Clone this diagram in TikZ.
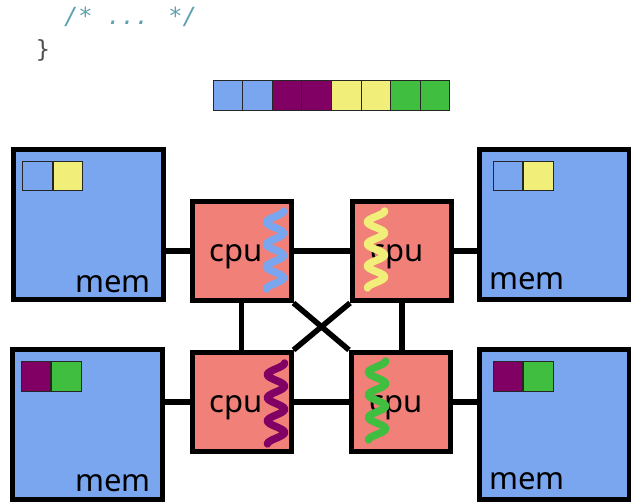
\documentclass[tikz,border=0pt]{standalone}
\usepackage{fontspec}
\setmainfont{Noto Sans}
\newfontfamily\codefont{DejaVu Sans Mono}
\usetikzlibrary{backgrounds}

\definecolor{memblue}{RGB}{122,166,240}
\definecolor{cpusalmon}{RGB}{240,128,120}
\definecolor{tyellow}{RGB}{242,238,122}
\definecolor{tpurple}{RGB}{128,0,100}
\definecolor{tgreen}{RGB}{64,190,64}
\definecolor{tblue}{RGB}{122,166,240}
\definecolor{commentteal}{RGB}{96,160,176}
\definecolor{bracegray}{RGB}{80,80,80}

\tikzset{
  membox/.style={draw=black, line width=5pt, fill=memblue, minimum size=150pt, inner sep=0pt},
  cpubox/.style={draw=black, line width=5pt, fill=cpusalmon, minimum size=99pt, inner sep=0pt},
  link/.style={draw=black, line width=5.5pt},
  cell/.style={draw=black!85, line width=1pt, minimum width=29.6pt, minimum height=30pt, inner sep=0pt},
  minicell/.style={draw=black!85, line width=1pt, minimum size=29.5pt, inner sep=0pt},
  boxlabel/.style={inner sep=0pt, font=\fontsize{31}{31}\selectfont},
  codetext/.style={inner sep=0pt, font=\codefont\fontsize{23.6}{28}\selectfont},
  thread/.style={line width=7.5pt, line cap=round, line join=round}
}

% wavy thread: colour, centre x, top y, bottom y
\newcommand{\threadwave}[4]{%
  \draw[thread, #1] plot[domain=0:1, samples=140, smooth]
    ({#2 + 8.5*sin(360*3.5*\x + 90)}, {#3 + (#4 - #3)*\x});}

\begin{document}
\begin{tikzpicture}[x=1pt, y=-1pt]
\useasboundingbox (0,0) rectangle (631,502);

% source fragment
\node[codetext, anchor=base west, text=commentteal] (comment) at (64,25) {\itshape /* ... */};
\node[codetext, anchor=base west, text=bracegray] (brace) at (35.6,58) {\}};

% shared array strip
\foreach \c [count=\i] in {tblue,tblue,tpurple,tpurple,tyellow,tyellow,tgreen,tgreen}
  \node[cell, fill=\c] (strip\i) at ({213 + 29.6*(\i-0.5)}, 95.5) {};

% memories
\node[membox] (memTL) at (88.5,224.5) {};
\node[membox] (memBL) at (87.5,424.5) {};
\node[membox] (memTR) at (554.5,224.5) {};
\node[membox] (memBR) at (554.5,424.5) {};

% processors
\node[cpubox] (cpuTL) at (241.5,251) {};
\node[cpubox] (cpuTR) at (402,251) {};
\node[cpubox] (cpuBL) at (241.5,402) {};
\node[cpubox] (cpuBR) at (401,402) {};

% interconnect
\begin{pgfonlayer}{background}
  \draw[link] (memTL.center |- cpuTL.center) -- (cpuTL.center);
  \draw[link] (cpuTL.center) -- (cpuTR.center);
  \draw[link] (cpuTR.center) -- (memTR.center |- cpuTR.center);
  \draw[link] (memBL.center |- cpuBL.center) -- (cpuBL.center);
  \draw[link] (cpuBL.center) -- (cpuBR.center);
  \draw[link] (cpuBR.center) -- (memBR.center |- cpuBR.center);
  \draw[link] (cpuTL.center) -- (cpuTL.center |- cpuBL.center);
  \draw[link] (cpuTR.center) -- (cpuTR.center |- cpuBR.center);
  \draw[link] (cpuTL.south east) -- (cpuBR.north west);
  \draw[link] (cpuTR.south west) -- (cpuBL.north east);
\end{pgfonlayer}

% cached cells inside each memory
\node[minicell, fill=tblue,   anchor=north west] (mTLa) at (22,161) {};
\node[minicell, fill=tyellow, anchor=north west] (mTLb) at (mTLa.north east) {};
\node[minicell, fill=tblue,   anchor=north west] (mTRa) at (492.5,161) {};
\node[minicell, fill=tyellow, anchor=north west] (mTRb) at (mTRa.north east) {};
\node[minicell, fill=tpurple, anchor=north west] (mBLa) at (20.5,361) {};
\node[minicell, fill=tgreen,  anchor=north west] (mBLb) at (mBLa.north east) {};
\node[minicell, fill=tpurple, anchor=north west] (mBRa) at (492.5,361) {};
\node[minicell, fill=tgreen,  anchor=north west] (mBRb) at (mBRa.north east) {};

% labels
\node[boxlabel, anchor=base east] (lTL) at (151,292) {mem};
\node[boxlabel, anchor=base east] (lBL) at (151,491) {mem};
\node[boxlabel, anchor=base west] (lTR) at (489,290) {mem};
\node[boxlabel, anchor=base west] (lBR) at (489,489) {mem};
\node[boxlabel, anchor=base] (cTL) at (236,262) {cpu};
\node[boxlabel, anchor=base] (cTR) at (397,262) {cpu};
\node[boxlabel, anchor=base] (cBL) at (236,412) {cpu};
\node[boxlabel, anchor=base] (cBR) at (396,412) {cpu};

% threads running on each processor
\threadwave{tblue}{275}{211}{289}
\threadwave{tyellow}{376}{211}{288}
\threadwave{tpurple}{276}{363}{444}
\threadwave{tgreen}{377}{361}{440}
\end{tikzpicture}
\end{document}
